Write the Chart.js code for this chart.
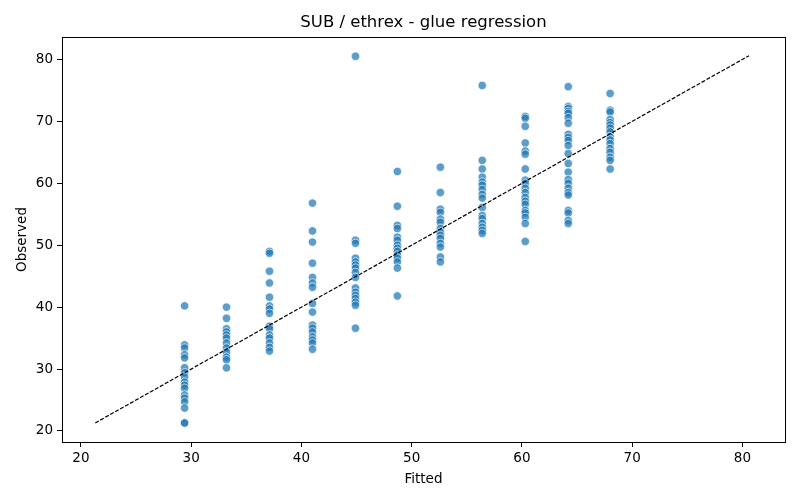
<!DOCTYPE html>
<html>
<head>
<meta charset="utf-8">
<script src="https://cdn.jsdelivr.net/npm/chart.js@4/dist/chart.umd.min.js"></script>
<style>
html,body{margin:0;padding:0;background:#fff;}
#wrap{width:800px;height:500px;}
</style>
</head>
<body>
<div id="wrap"><canvas id="c" width="800" height="500"></canvas></div>
<script>
const chartTitle = 'SUB / ethrex - glue regression';
const fittedLevels = [29.4, 33.2, 37.1, 41.0, 44.9, 48.7, 52.6, 56.4, 60.3, 64.2, 68.0];
const obs1 = [40.2, 33.9, 33.4, 32.3, 31.8, 30.2, 29.4, 28.7, 27.9, 27.4, 26.9, 25.8, 25.3, 24.7, 23.7, 21.3, 21.3];
const obs2 = [40.0, 38.2, 36.5, 36.0, 35.5, 35.0, 34.2, 33.4, 32.7, 31.9, 31.5, 30.2];
const obs3 = [49.0, 48.7, 45.8, 43.9, 41.6, 40.2, 39.7, 39.0, 36.9, 36.5, 35.5, 35.0, 34.2, 33.5, 32.9];
const obs4 = [56.8, 52.3, 50.5, 47.1, 44.8, 43.9, 43.2, 40.6, 39.2, 37.1, 36.6, 36.0, 35.2, 34.7, 34.2, 33.2];
const obs5 = [80.5, 50.8, 50.3, 47.9, 47.3, 46.8, 46.3, 45.6, 44.8, 43.1, 42.4, 41.9, 41.4, 40.8, 40.3, 36.6];
const obs6 = [61.9, 56.3, 53.2, 52.7, 51.3, 50.8, 50.0, 49.5, 49.0, 48.4, 47.9, 47.3, 46.3, 41.8];
const obs7 = [62.6, 58.5, 55.8, 55.3, 54.2, 53.7, 52.7, 52.1, 51.6, 51.1, 50.3, 49.7, 48.1, 47.3];
const obs8 = [75.8, 63.7, 62.3, 61.0, 60.2, 59.7, 59.0, 58.2, 57.6, 56.1, 54.8, 54.3, 53.5, 52.9, 52.4, 51.9];
const obs9 = [70.8, 70.5, 69.2, 66.5, 65.2, 64.7, 62.3, 60.5, 60.0, 59.2, 58.5, 57.7, 57.1, 56.6, 55.6, 55.2, 54.5, 53.5, 50.6];
const obs10 = [75.6, 72.4, 72.1, 71.6, 71.3, 70.6, 69.7, 67.9, 67.4, 66.9, 66.1, 64.8, 63.2, 61.8, 60.6, 60.0, 59.2, 58.5, 58.1, 55.6, 55.2, 54.0, 53.5];
const obs11 = [74.5, 71.8, 71.5, 70.3, 69.8, 69.4, 68.9, 68.3, 67.5, 67.0, 66.4, 65.6, 65.0, 64.2, 63.7, 62.3];
const observedByLevel = [obs1, obs2, obs3, obs4, obs5, obs6, obs7, obs8, obs9, obs10, obs11];
const identityLine = [21.3, 80.6];
const xTicks = [20, 30, 40, 50, 60, 70, 80];
const yTicks = [20, 30, 40, 50, 60, 70, 80];

const points = [];
fittedLevels.forEach((fx, i) => {
  observedByLevel[i].forEach(v => points.push({x: fx, y: v}));
});
const linePts = identityLine.map(v => ({x: v, y: v}));

Chart.defaults.font.family = "DejaVu Sans";
Chart.defaults.color = "#000";

const frame = {
  id: 'frame',
  afterDatasetsDraw(chart) {
    const a = chart.chartArea, ctx = chart.ctx;
    ctx.save();
    ctx.strokeStyle = '#000';
    ctx.lineWidth = 1;
    ctx.strokeRect(Math.round(a.left) + 0.5, Math.round(a.top) + 0.5, Math.round(a.right - a.left), Math.round(a.bottom - a.top));
    ctx.fillStyle = '#000';
    ctx.font = '16.5px "DejaVu Sans"';
    ctx.textAlign = 'center';
    ctx.textBaseline = 'middle';
    ctx.fillText(chartTitle, (a.left + a.right) / 2, 23);
    ctx.restore();
  }
};

new Chart(document.getElementById('c'), {
  type: 'scatter',
  data: {
    datasets: [
      {
        data: points,
        backgroundColor: 'rgba(31,119,180,0.72)',
        borderColor: 'rgba(255,255,255,0.8)',
        borderWidth: 0.8,
        pointRadius: 4.2,
        pointHoverRadius: 4.2,
        order: 2
      },
      {
        type: 'line',
        data: linePts,
        borderColor: '#000',
        borderWidth: 1.2,
        borderDash: [4, 1.7],
        pointRadius: 0,
        fill: false,
        order: 1
      }
    ]
  },
  options: {
    responsive: false,
    animation: false,
    layout: {padding: {left: 0, right: 15, top: 37, bottom: 12}},
    plugins: {
      legend: {display: false},
      tooltip: {enabled: false},
      title: {display: false}
    },
    scales: {
      x: {
        type: 'linear',
        min: 18.28,
        max: 83.86,
        afterBuildTicks: ax => { ax.ticks = xTicks.map(v => ({value: v})); },
        afterFit: ax => { ax.height = 46; },
        grid: {display: true, drawOnChartArea: false, drawTicks: true, tickLength: 5, tickColor: '#000'},
        border: {display: true, color: '#000'},
        ticks: {font: {size: 13.5}, padding: 3, maxRotation: 0, autoSkip: false},
        title: {display: true, text: 'Fitted', font: {size: 13.5}, padding: {top: 2, bottom: 0}}
      },
      y: {
        type: 'linear',
        min: 18.22,
        max: 83.62,
        afterBuildTicks: ax => { ax.ticks = yTicks.map(v => ({value: v})); },
        afterFit: ax => { ax.width = 62; },
        grid: {display: true, drawOnChartArea: false, drawTicks: true, tickLength: 5, tickColor: '#000'},
        border: {display: true, color: '#000'},
        ticks: {font: {size: 13.5}, padding: 4, autoSkip: false},
        title: {display: true, text: 'Observed', font: {size: 13.5}, padding: {top: 14, bottom: 4}}
      }
    }
  },
  plugins: [frame]
});
</script>
</body>
</html>
